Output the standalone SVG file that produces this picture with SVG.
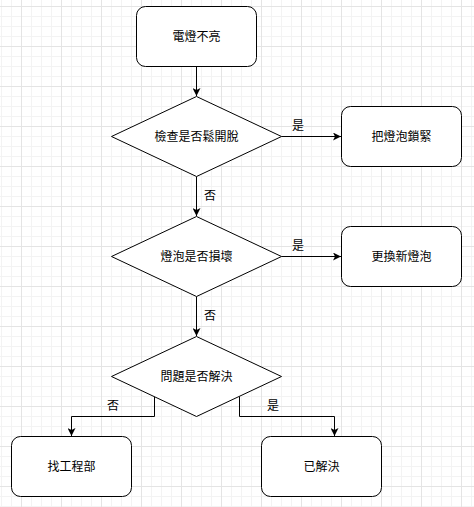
<svg xmlns="http://www.w3.org/2000/svg" width="474" height="507" viewBox="0 0 474 507">
  <defs>
    <pattern id="grid" patternUnits="userSpaceOnUse" x="21" y="6" width="40" height="40">
      <path d="M10.5,0V40M20.5,0V40M30.5,0V40M0,10.5H40M0,20.5H40M0,30.5H40" stroke="#f3f3f3" stroke-width="1" fill="none"/>
      <path d="M0.5,0V40M0,0.5H40" stroke="#e4e4e4" stroke-width="1" fill="none"/>
    </pattern>
    <marker id="arr" viewBox="0 0 8 8" refX="8" refY="4" markerWidth="8" markerHeight="8" markerUnits="userSpaceOnUse" orient="auto">
      <path d="M0,0 L8,4 L0,8 L2,4 z" fill="#000"/>
    </marker>
    <style>
      .box { fill: #fff; stroke: #000; stroke-width: 1; }
      .t { font-family: "Liberation Sans", "Noto Sans CJK TC", sans-serif; font-size: 12px; fill: #000; text-anchor: middle; dominant-baseline: central; }
      .e { fill: none; stroke: #000; stroke-width: 1; marker-end: url(#arr); }
    </style>
  </defs>
  <rect width="474" height="507" fill="#fff"/>
  <rect width="474" height="507" fill="url(#grid)"/>

  <g id="connectors">
    <path class="e" d="M196.5,66.5 V96"/>
    <path class="e" d="M281.5,136.5 H341"/>
    <path class="e" d="M196.5,176.5 V216"/>
    <path class="e" d="M281.5,256.5 H341"/>
    <path class="e" d="M196.5,296.5 V336"/>
    <path class="e" d="M154.5,396.5 V416.5 H71.5 V436"/>
    <path class="e" d="M239.5,396.5 V416.5 H334.5 V436"/>
    <text class="t" x="298" y="126">是</text>
    <text class="t" x="210" y="196">否</text>
    <text class="t" x="298" y="246">是</text>
    <text class="t" x="210" y="316">否</text>
    <text class="t" x="113" y="406">否</text>
    <text class="t" x="273" y="406">是</text>
  </g>

  <g id="start">
    <rect class="box" x="136.5" y="6.5" width="120" height="60" rx="9"/>
    <text class="t" x="196.5" y="36.5">電燈不亮</text>
  </g>
  <g id="check-loose">
    <polygon class="box" points="196.5,96.5 281.5,136.5 196.5,176.5 111.5,136.5"/>
    <text class="t" x="196.5" y="136.5">檢查是否鬆開脫</text>
  </g>
  <g id="tighten">
    <rect class="box" x="341.5" y="106.5" width="120" height="60" rx="9"/>
    <text class="t" x="401.5" y="136.5">把燈泡鎖緊</text>
  </g>
  <g id="check-broken">
    <polygon class="box" points="196.5,216.5 281.5,256.5 196.5,296.5 111.5,256.5"/>
    <text class="t" x="196.5" y="256.5">燈泡是否損壞</text>
  </g>
  <g id="replace">
    <rect class="box" x="341.5" y="226.5" width="120" height="60" rx="9"/>
    <text class="t" x="401.5" y="256.5">更換新燈泡</text>
  </g>
  <g id="check-solved">
    <polygon class="box" points="196.5,336.5 281.5,376.5 196.5,416.5 111.5,376.5"/>
    <text class="t" x="196.5" y="376.5">問題是否解決</text>
  </g>
  <g id="engineering">
    <rect class="box" x="11.5" y="436.5" width="120" height="60" rx="9"/>
    <text class="t" x="71.5" y="466.5">找工程部</text>
  </g>
  <g id="solved">
    <rect class="box" x="261.5" y="436.5" width="120" height="60" rx="9"/>
    <text class="t" x="321.5" y="466.5">已解決</text>
  </g>
</svg>
